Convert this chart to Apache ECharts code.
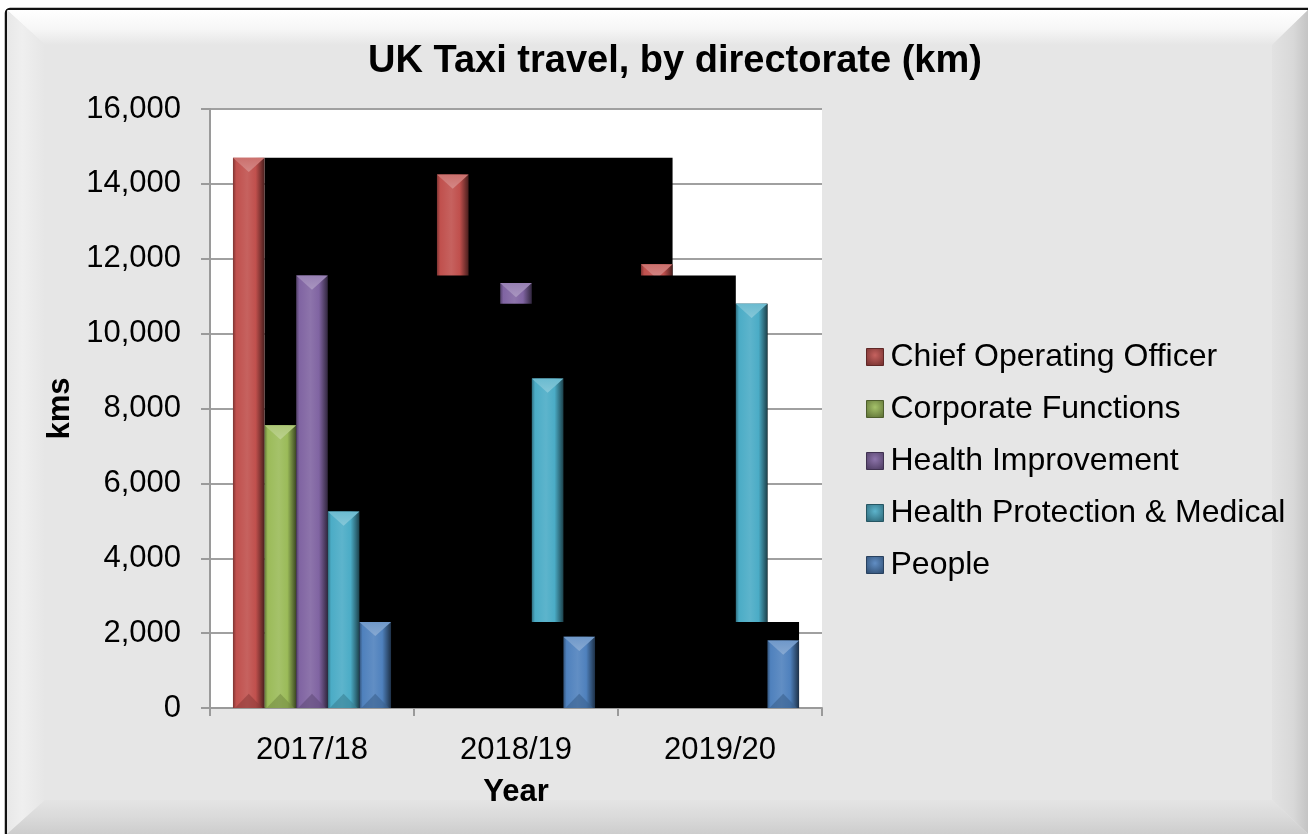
<!DOCTYPE html>
<html>
<head>
<meta charset="utf-8">
<title>UK Taxi travel, by directorate (km)</title>
<script src="https://cdn.jsdelivr.net/npm/echarts@6/dist/echarts.min.js"></script>
<style>
  html, body { margin: 0; padding: 0; background: #ffffff; }
  #chart { width: 1308px; height: 834px; }
</style>
</head>
<body>
<div id="chart"></div>
<script>
// Financial years on the category axis
const years = ['2017/18', '2018/19', '2019/20'];

// Directorates, in legend / drawing order
const directorates = [
  'Chief Operating Officer',
  'Corporate Functions',
  'Health Improvement',
  'Health Protection & Medical',
  'People'
];

// Taxi kilometres per directorate, one value per year
const chiefOperatingOfficer = [14700, 14250, 11850];
const corporateFunctions = [7550, 6200, 5100];
const healthImprovement = [11550, 11350, 9400];
const healthProtectionMedical = [5250, 8800, 10800];
const people = [2300, 1900, 1800];

// Value axis range and step
const yMin = 0;
const yMax = 16000;
const yStep = 2000;

const seriesValues = [
  chiefOperatingOfficer,
  corporateFunctions,
  healthImprovement,
  healthProtectionMedical,
  people
];
const seriesColors = ['#C0504D', '#9BBB59', '#8064A2', '#4BACC6', '#4F81BD'];

const FONT = '"Liberation Sans", Arial, "Helvetica Neue", sans-serif';
const BAR_SHARE = 0.155; // each bar's share of a category band

function mix(hex, target, amount) {
  const c = echarts.color.parse(hex);
  const t = target === 'white' ? 255 : 0;
  const r = Math.round(c[0] + (t - c[0]) * amount);
  const g = Math.round(c[1] + (t - c[1]) * amount);
  const b = Math.round(c[2] + (t - c[2]) * amount);
  return 'rgb(' + r + ',' + g + ',' + b + ')';
}

function bodyFill(base) {
  return new echarts.graphic.LinearGradient(0, 0, 1, 0, [
    { offset: 0, color: mix(base, 'black', 0.35) },
    { offset: 0.1, color: base },
    { offset: 0.45, color: mix(base, 'white', 0.1) },
    { offset: 0.72, color: base },
    { offset: 0.88, color: mix(base, 'black', 0.35) },
    { offset: 1, color: mix(base, 'black', 0.62) }
  ]);
}

function makeRender(k, values, base) {
  const n = directorates.length;
  return function (params, api) {
    const band = api.size([1, 0])[0];
    const bw = band * BAR_SHARE;
    const slot = function (cat) {
      return api.coord([cat, 0])[0] - bw * n / 2 + k * bw;
    };
    const cat = api.value(0);
    const x0 = slot(cat);
    const yTop = api.coord([cat, api.value(1)])[1];
    const yBase = api.coord([cat, 0])[1];
    const bev = Math.min(bw * 0.45, (yBase - yTop) / 2);
    const children = [];

    // dark backing panel spanning this directorate's later years
    if (params.dataIndex === 0) {
      const last = values.length - 1;
      const peak = Math.max.apply(null, values);
      const xs = x0 + bw;
      const xe = slot(last) + bw;
      const yp = api.coord([0, peak])[1];
      children.push({
        type: 'rect',
        shape: { x: xs, y: yp, width: xe - xs, height: yBase - yp },
        style: { fill: '#000000' }
      });
    }

    // bevelled column body
    children.push({
      type: 'rect',
      shape: { x: x0, y: yTop, width: bw, height: yBase - yTop },
      style: { fill: bodyFill(base) }
    });
    // lit top facet
    children.push({
      type: 'polygon',
      shape: { points: [[x0, yTop], [x0 + bw, yTop], [x0 + bw / 2, yTop + bev]] },
      style: {
        fill: new echarts.graphic.LinearGradient(0, 0, 0, 1, [
          { offset: 0, color: mix(base, 'white', 0.18) },
          { offset: 1, color: mix(base, 'white', 0.32) }
        ])
      }
    });
    // shaded bottom facet
    children.push({
      type: 'polygon',
      shape: { points: [[x0 + 2, yBase], [x0 + bw - 2, yBase], [x0 + bw / 2, yBase - bev]] },
      style: { fill: mix(base, 'black', 0.25), opacity: 0.6 }
    });
    return { type: 'group', children: children };
  };
}

const series = directorates.map(function (name, k) {
  return {
    name: name,
    type: 'custom',
    z: 3 + k,
    itemStyle: { color: seriesColors[k] },
    encode: { x: 0, y: 1 },
    data: years.map(function (y, i) { return [i, seriesValues[k][i]]; }),
    renderItem: makeRender(k, seriesValues[k], seriesColors[k])
  };
});

const W = 1308, H = 834;
const frame = [
  {
    type: 'rect', z: -20,
    shape: { x: 6, y: 9, width: W + 10, height: H + 10, r: 4 },
    style: { fill: '#E6E6E6', stroke: '#111111', lineWidth: 2.5 }
  },
  {
    type: 'polygon', z: -19,
    shape: { points: [[7, 10], [W, 10], [W - 36, 45], [45, 45]] },
    style: {
      fill: new echarts.graphic.LinearGradient(0, 0, 0, 1, [
        { offset: 0, color: '#FFFFFF' },
        { offset: 0.55, color: '#F6F6F6' },
        { offset: 1, color: '#E6E6E6' }
      ])
    }
  },
  {
    type: 'polygon', z: -19,
    shape: { points: [[7, 10], [45, 45], [45, 800], [7, H]] },
    style: {
      fill: new echarts.graphic.LinearGradient(0, 0, 1, 0, [
        { offset: 0, color: '#E8E8E8' },
        { offset: 0.4, color: '#EFEFEF' },
        { offset: 1, color: '#E6E6E6' }
      ])
    }
  },
  {
    type: 'polygon', z: -19,
    shape: { points: [[W, 10], [W, H], [W - 36, 800], [W - 36, 45]] },
    style: {
      fill: new echarts.graphic.LinearGradient(0, 0, 1, 0, [
        { offset: 0, color: '#E2E2E2' },
        { offset: 0.6, color: '#D8D8D8' },
        { offset: 1, color: '#C4C4C4' }
      ])
    }
  },
  {
    type: 'polygon', z: -19,
    shape: { points: [[7, H], [45, 800], [W - 36, 800], [W, H]] },
    style: {
      fill: new echarts.graphic.LinearGradient(0, 0, 0, 1, [
        { offset: 0, color: '#E4E4E4' },
        { offset: 0.5, color: '#DADADA' },
        { offset: 1, color: '#CDCDCD' }
      ])
    }
  },
  {
    type: 'text', z: 10,
    style: {
      text: 'UK Taxi travel, by directorate (km)',
      x: 675, y: 62,
      textAlign: 'center', textVerticalAlign: 'middle',
      font: 'bold 38px ' + FONT,
      fill: '#000000'
    }
  }
];

const option = {
  animation: false,
  backgroundColor: 'transparent',
  graphic: frame,
  legend: {
    orient: 'vertical',
    left: 866,
    top: 341,
    padding: 0,
    icon: 'rect',
    itemWidth: 17,
    itemHeight: 17,
    itemGap: 20,
    textStyle: { fontFamily: FONT, fontSize: 32, lineHeight: 32, color: '#000000', padding: [0, 0, 0, 2] },
    data: directorates.map(function (name, k) {
      return {
        name: name,
        itemStyle: {
          color: new echarts.graphic.RadialGradient(0.5, 0.4, 0.7, [
            { offset: 0, color: mix(seriesColors[k], 'white', 0.1) },
            { offset: 1, color: mix(seriesColors[k], 'black', 0.4) }
          ]),
          borderColor: mix(seriesColors[k], 'black', 0.5),
          borderWidth: 1
        }
      };
    })
  },
  grid: {
    left: 210, right: W - 822, top: 109, bottom: H - 708,
    show: true, backgroundColor: '#FFFFFF', borderWidth: 0
  },
  xAxis: {
    type: 'category',
    data: years,
    name: 'Year',
    nameLocation: 'middle',
    nameGap: 69,
    nameTextStyle: { fontFamily: FONT, fontSize: 31, fontWeight: 'bold', color: '#000000' },
    axisLine: { lineStyle: { color: '#9A9A9A', width: 2 } },
    axisTick: { show: true, length: 8, lineStyle: { color: '#9A9A9A', width: 2 } },
    axisLabel: { margin: 27, fontFamily: FONT, fontSize: 31, color: '#000000' }
  },
  yAxis: {
    type: 'value',
    min: yMin, max: yMax, interval: yStep,
    name: 'kms',
    nameLocation: 'middle',
    nameGap: 134,
    nameRotate: 90,
    nameTextStyle: { fontFamily: FONT, fontSize: 31, fontWeight: 'bold', color: '#000000' },
    axisLine: { show: true, lineStyle: { color: '#9A9A9A', width: 2 } },
    axisTick: { show: true, length: 9, lineStyle: { color: '#9A9A9A', width: 2 } },
    splitLine: { lineStyle: { color: '#A0A0A0', width: 2 } },
    axisLabel: {
      margin: 29, fontFamily: FONT, fontSize: 31, color: '#000000',
      formatter: function (v) { return v.toLocaleString('en-US'); }
    }
  },
  series: series
};

const chart = echarts.init(document.getElementById('chart'), null, { renderer: 'canvas' });
chart.setOption(option);
</script>
</body>
</html>
